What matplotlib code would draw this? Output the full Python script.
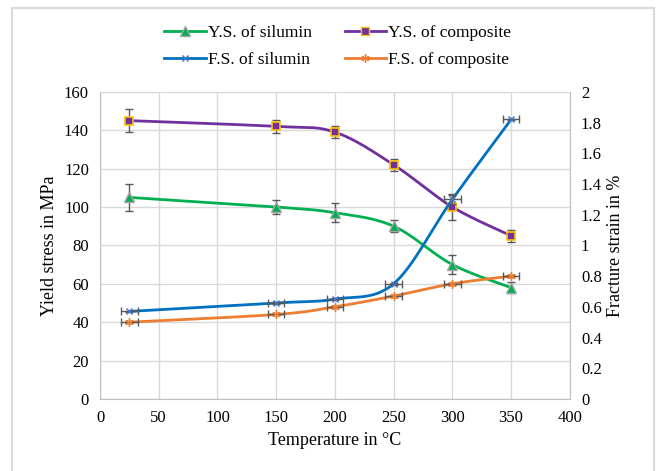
import matplotlib.pyplot as plt
import numpy as np
from matplotlib.lines import Line2D

temp = [25, 150, 200, 250, 300, 350]

ys_silumin = [105, 100, 97, 90, 70, 58]
ys_silumin_err = [7, 3.5, 5, 3, 5, 3]
ys_comp = [145, 142, 139, 122, 100, 85]
ys_comp_err = [6, 3.5, 3, 3, 7, 3]

fs_silumin = [0.57, 0.625, 0.65, 0.75, 1.3, 1.82]
fs_silumin_err = [0.005, 0.005, 0.005, 0.005, 0.03, 0.005]
fs_comp = [0.5, 0.55, 0.6, 0.67, 0.75, 0.8]
fs_comp_err = [0.005, 0.005, 0.005, 0.005, 0.005, 0.005]
temp_err = [7, 7, 7, 7, 7, 7]

plt.rcParams['font.family'] = ['Liberation Serif', 'DejaVu Serif']
plt.rcParams['font.size'] = 12


def smooth(x, y, n=30):
    # Catmull-Rom style curve, like Excel's smoothed line
    x = np.asarray(x, float)
    y = np.asarray(y, float)
    xs, ys = [], []
    for i in range(len(x) - 1):
        p0 = (x[max(i - 1, 0)], y[max(i - 1, 0)])
        p1 = (x[i], y[i])
        p2 = (x[i + 1], y[i + 1])
        p3 = (x[min(i + 2, len(x) - 1)], y[min(i + 2, len(x) - 1)])
        t = np.linspace(0, 1, n)
        for k in range(2):
            a0, a1, a2, a3 = p0[k], p1[k], p2[k], p3[k]
            v = 0.5 * ((2 * a1) + (-a0 + a2) * t + (2 * a0 - 5 * a1 + 4 * a2 - a3) * t ** 2
                       + (-a0 + 3 * a1 - 3 * a2 + a3) * t ** 3)
            (xs if k == 0 else ys).append(v)
    return np.concatenate(xs), np.concatenate(ys)


fig = plt.figure(figsize=(6.58, 4.71), dpi=100)
ax = fig.add_axes([0.152, 0.153, 0.714, 0.652])
ax2 = ax.twinx()

green = '#00B050'
purple = '#7030A0'
blue = '#0070C0'
orange = '#ED7D31'
errc = '#595959'
eb = dict(fmt='none', ecolor=errc, capsize=3, lw=1, capthick=1, zorder=3)

ax.plot(*smooth(temp, ys_silumin), color=green, lw=2, zorder=2)
ax.errorbar(temp, ys_silumin, yerr=ys_silumin_err, **eb)
ax.plot(temp, ys_silumin, ls='none', marker='^', ms=7, mfc=green, mec='#A5A5A5', zorder=4)

ax.plot(*smooth(temp, ys_comp), color=purple, lw=2, zorder=2)
ax.errorbar(temp, ys_comp, yerr=ys_comp_err, **eb)
ax.plot(temp, ys_comp, ls='none', marker='s', ms=6, mfc=purple, mec='#FFC000', mew=1.2, zorder=4)

ax2.plot(*smooth(temp, fs_silumin), color=blue, lw=2, zorder=2)
ax2.errorbar(temp, fs_silumin, xerr=temp_err, yerr=fs_silumin_err, **eb)
ax2.plot(temp, fs_silumin, ls='none', marker='x', ms=5, mec='#4472C4', mew=1, zorder=4)

ax2.plot(*smooth(temp, fs_comp), color=orange, lw=2, zorder=2)
ax2.errorbar(temp, fs_comp, xerr=temp_err, yerr=fs_comp_err, **eb)
ax2.plot(temp, fs_comp, ls='none', marker=(6, 2, 0), ms=6, mec=orange, mew=1, zorder=4)

ax.set_xlim(0, 400)
ax.set_ylim(0, 160)
ax2.set_ylim(0, 2)
ax.set_xticks(np.arange(0, 401, 50))
ax.set_yticks(np.arange(0, 161, 20))
ax2.set_yticks(np.arange(0, 2.01, 0.2))
ax2.set_yticklabels(['0', '0.2', '0.4', '0.6', '0.8', '1', '1.2', '1.4', '1.6', '1.8', '2'])

ax.grid(True, color='#D9D9D9', lw=1)
ax.set_axisbelow(True)
for a in (ax, ax2):
    a.tick_params(length=0, pad=8, labelsize=12)
    for s in a.spines.values():
        s.set_visible(False)
ax.spines['left'].set_visible(True)
ax.spines['left'].set_color('#BFBFBF')
ax.spines['bottom'].set_visible(True)
ax.spines['bottom'].set_color('#BFBFBF')
ax2.spines['right'].set_visible(True)
ax2.spines['right'].set_color('#BFBFBF')

ax.set_xlabel('Temperature in °C', fontsize=13, labelpad=4)
ax.set_ylabel('Yield stress in MPa', fontsize=13)
ax2.set_ylabel('Fracture strain in %', fontsize=13)

# row-major order as in the reference: matplotlib fills columns first
handles = [
    Line2D([], [], color=green, lw=2, marker='^', ms=7, mfc=green, mec='#A5A5A5'),
    Line2D([], [], color=blue, lw=2, marker='x', ms=5, mec='#4472C4'),
    Line2D([], [], color=purple, lw=2, marker='s', ms=6, mfc=purple, mec='#FFC000'),
    Line2D([], [], color=orange, lw=2, marker=(6, 2, 0), ms=6, mec=orange),
]
labels = ['Y.S. of silumin', 'F.S. of silumin', 'Y.S. of composite', 'F.S. of composite']
fig.legend(handles, labels, ncol=2, loc='upper center', bbox_to_anchor=(0.513, 0.98),
           frameon=False, fontsize=12.5, handlelength=2.4, handletextpad=0.1,
           columnspacing=1.9, labelspacing=0.6)

fig.patches.append(plt.Rectangle((12 / 658, -0.05), 642 / 658, 1.05 - 8 / 471,
                                 transform=fig.transFigure, fill=False, ec='#D9D9D9', lw=1.5))

fig.savefig('out.png', dpi=100)
